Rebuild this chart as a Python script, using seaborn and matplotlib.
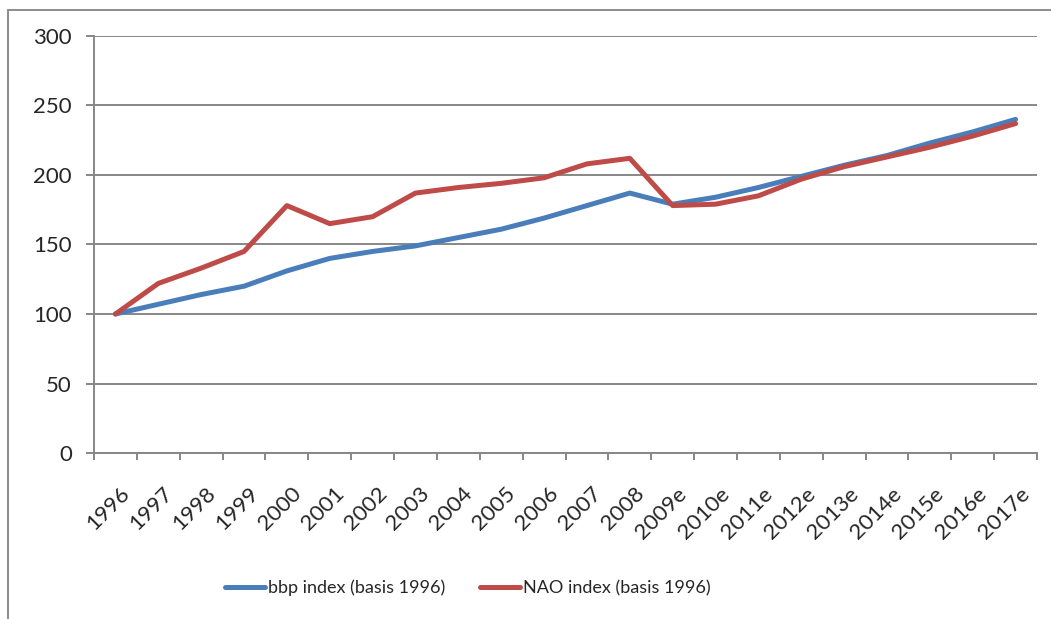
import matplotlib
matplotlib.use("Agg")
import matplotlib.pyplot as plt
import matplotlib.transforms as mtransforms
from matplotlib.ticker import FixedLocator, MultipleLocator
from matplotlib.lines import Line2D
import seaborn as sns
import numpy as np
import pandas as pd

years = ["1996", "1997", "1998", "1999", "2000", "2001", "2002", "2003", "2004",
         "2005", "2006", "2007", "2008", "2009e", "2010e", "2011e", "2012e",
         "2013e", "2014e", "2015e", "2016e", "2017e"]
bbp = [100, 107, 114, 120, 131, 140, 145, 149, 155, 161, 169, 178, 187, 179,
       184, 191, 199, 207, 214, 223, 231, 240]
nao = [100, 122, 133, 145, 178, 165, 170, 187, 191, 194, 198, 208, 212, 178,
       179, 185, 197, 206, 213, 220, 228, 237]
series_names = ["bbp index (basis 1996)", "NAO index (basis 1996)"]
colors = ["#4A7EBB", "#BE4B48"]

df = pd.concat([
    pd.DataFrame({"year": years, "value": bbp, "series": series_names[0]}),
    pd.DataFrame({"year": years, "value": nao, "series": series_names[1]}),
])

sns.set_style("white")
plt.rcParams["font.family"] = ["Lato", "DejaVu Sans"]

fig = plt.figure(figsize=(10.51, 6.19), dpi=100)
ax = fig.add_axes([94 / 1051, 1 - 453 / 619, (1037 - 94) / 1051, (453 - 36) / 619])

sns.lineplot(data=df, x="year", y="value", hue="series", palette=colors,
             sort=False, linewidth=3.6, ax=ax, legend=False)

grid_c = "#878787"
ax.set_ylim(0, 300)
ax.yaxis.set_major_locator(MultipleLocator(50))
ax.set_xlim(-0.5, len(years) - 0.5)
ax.xaxis.set_major_locator(FixedLocator(np.arange(len(years))))
ax.set_xticklabels(years)
ax.xaxis.set_minor_locator(FixedLocator(np.arange(len(years) + 1) - 0.5))
ax.grid(axis="y", color=grid_c, linewidth=1.4)
ax.set_axisbelow(True)
for s in ["top", "right"]:
    ax.spines[s].set_visible(False)
for s in ["left", "bottom"]:
    ax.spines[s].set_color(grid_c)
    ax.spines[s].set_linewidth(1.4)
ax.tick_params(axis="y", which="major", length=6, width=1.4, color=grid_c,
               labelsize=16, pad=10, left=True)
ax.tick_params(axis="x", which="major", length=0, labelsize=16, pad=22)
ax.tick_params(axis="x", which="minor", length=5, width=1.4, color=grid_c,
               bottom=True)
shift = mtransforms.ScaledTranslation(4 / 100, 0, fig.dpi_scale_trans)
for lbl in ax.get_xticklabels():
    lbl.set_rotation(45)
    lbl.set_ha("right")
    lbl.set_va("top")
    lbl.set_rotation_mode("anchor")
    lbl.set_transform(lbl.get_transform() + shift)
ax.set_xlabel("")
ax.set_ylabel("")

handles = [Line2D([], [], color=c, linewidth=3.6) for c in colors]
fig.legend(handles, series_names, loc="center", bbox_to_anchor=(468 / 1051, 1 - 588 / 619),
           ncol=2, frameon=False, fontsize=13, handlelength=2.2, handletextpad=0.2,
           columnspacing=1.9)

# chart area border (top and left visible)
fig.add_artist(Line2D([8 / 1051, 1.0], [1 - 10 / 619, 1 - 10 / 619],
                      transform=fig.transFigure, color="#8C8C8C", linewidth=1.4))
fig.add_artist(Line2D([8 / 1051, 8 / 1051], [1 - 10 / 619, 0.0],
                      transform=fig.transFigure, color="#8C8C8C", linewidth=1.4))

fig.savefig("out.png", dpi=100)
